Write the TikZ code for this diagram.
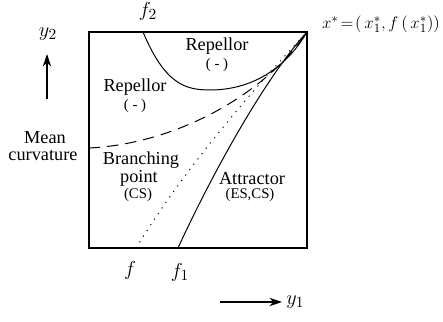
\documentclass[tikz,border=0pt]{standalone}
\usepackage{fontspec}
\setmainfont{Liberation Serif}
\usetikzlibrary{arrows.meta}
\begin{document}
\begin{tikzpicture}[x=0.025cm, y=0.025cm,
    lbl/.style={font=\fontsize{13}{14}\selectfont, inner sep=0pt},
    sml/.style={font=\fontsize{10.5}{12}\selectfont, inner sep=0pt},
    mth/.style={font=\fontsize{15}{16}\selectfont, inner sep=0pt},
    curve/.style={line width=0.7pt},
    axarrow/.style={line width=0.8pt, -{Stealth[length=9pt, width=6pt]}}]
    \useasboundingbox (0,0) rectangle (443,322);
    % the square
    \draw[line width=0.8pt] (89,74) rectangle (307,290);
    \coordinate (corner) at (307,290);
    \coordinate (ftwo) at (143,290);
    \coordinate (fbr) at (136,74);
    \coordinate (fone) at (178,74);
    \coordinate (mean) at (89,174);

    % curves into the corner
    \draw[curve] (ftwo) .. controls (165,238) and (185,232) .. (210,232)
                        .. controls (250,232) and (285,252) .. (corner);
    \draw[curve, dash pattern=on 8pt off 5pt] (mean) .. controls (175,178) and (265,227) .. (corner);
    \draw[curve, dash pattern=on 0.8pt off 4pt] (fbr) .. controls (190,162) and (262,242) .. (corner);
    \draw[curve] (fone) .. controls (212,148) and (265,244) .. (corner);

    % labels
    \node[mth] (lftwo) at (148,311) {$f_2$};
    \node[mth] (lf) at (130,52) {$f$};
    \node[mth] (lfone) at (180,50) {$f_1$};
    \node[lbl] (lstar) at (381,298) {$x^{*}\!=\!(\,x_1^{*}, f\,(\,x_1^{*}))$};

    \node[lbl] (rep1) at (217,276) {Repellor};
    \node[sml] (rep1s) at (217,257) {( - )};
    \node[lbl] (rep2) at (135,235) {Repellor};
    \node[sml] (rep2s) at (135,216) {( - )};
    \node[lbl] (br1) at (141,162) {Branching};
    \node[lbl] (br2) at (139,144) {point};
    \node[sml] (br3) at (138,127) {(CS)};
    \node[lbl] (att1) at (252,143) {Attractor};
    \node[sml] (att2) at (250,127) {(ES,CS)};
    \node[lbl] (mc1) at (45,184) {Mean};
    \node[lbl] (mc2) at (43,167) {curvature};

    % axes
    \coordinate (ytwoa) at (47,223);
    \coordinate (ytwob) at (47,268);
    \draw[axarrow] (ytwoa) -- (ytwob);
    \node[mth] (ytwo) at (48,288) {$y_2$};
    \coordinate (yonea) at (220,20);
    \coordinate (yoneb) at (282,20);
    \draw[axarrow] (yonea) -- (yoneb);
    \node[mth, anchor=west] (yone) at (286,20) {$y_1$};
\end{tikzpicture}
\end{document}
